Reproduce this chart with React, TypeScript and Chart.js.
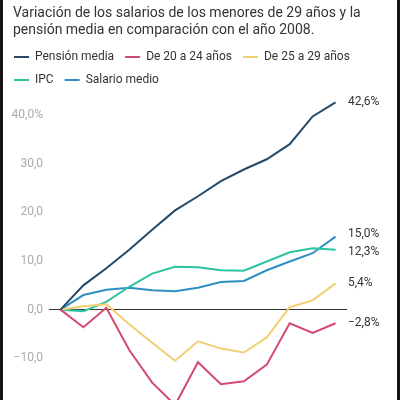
import React, { useEffect, useRef } from "react";
import { Chart, registerables } from "chart.js";

Chart.register(...registerables);

const years = ["2008", "2009", "2010", "2011", "2012", "2013", "2014", "2015", "2016", "2017", "2018", "2019", "2020"];
const pensionMedia = [0, 5.0, 8.5, 12.3, 16.4, 20.4, 23.3, 26.4, 28.8, 30.9, 34.0, 39.7, 42.6];
const de20a24 = [0, -3.6, 0.4, -8.3, -15.0, -19.6, -10.8, -15.3, -14.7, -11.3, -2.8, -4.8, -2.8];
const de25a29 = [0, 0.7, 1.1, -3.0, -6.8, -10.5, -6.5, -8.0, -8.8, -5.7, 0.5, 1.9, 5.4];
const ipc = [0, -0.3, 1.6, 4.7, 7.4, 8.8, 8.7, 8.1, 8.0, 9.9, 11.8, 12.6, 12.3];
const salarioMedio = [0, 3.0, 4.1, 4.5, 4.0, 3.8, 4.5, 5.7, 5.9, 8.1, 9.9, 11.6, 15.0];

const seriesNames = ["Pensión media", "De 20 a 24 años", "De 25 a 29 años", "IPC", "Salario medio"];
const seriesColors = ["#244a6b", "#d24a6f", "#f2cf73", "#2cc3a0", "#2f8fc3"];
const titleLines = [
  "Variación de los salarios de los menores de 29 años y la",
  "pensión media en comparación con el año 2008.",
];

const FONT = "Roboto, 'Noto Sans', sans-serif";

const fmt = (v: number) => v.toFixed(1).replace(".", ",").replace("-", "\u2212");

const endLabels = {
  id: "endLabels",
  afterDatasetsDraw(chart: any) {
    const { ctx, chartArea } = chart;
    const items: { y: number; text: string }[] = [];
    chart.data.datasets.forEach((ds: any, i: number) => {
      const meta = chart.getDatasetMeta(i);
      const pt = meta.data[meta.data.length - 1];
      items.push({ y: pt.y, text: fmt(ds.data[ds.data.length - 1]) + "%" });
    });
    items.sort((a, b) => a.y - b.y);
    const gap = 18;
    for (let iter = 0; iter < 20; iter++) {
      for (let k = 1; k < items.length; k++) {
        const d = items[k].y - items[k - 1].y;
        if (d < gap) {
          const s = (gap - d) / 2;
          items[k - 1].y -= s;
          items[k].y += s;
        }
      }
    }
    ctx.save();
    ctx.font = `12px ${FONT}`;
    ctx.fillStyle = "#333";
    ctx.textBaseline = "middle";
    ctx.textAlign = "left";
    items.forEach((it) => ctx.fillText(it.text, chartArea.right + 1, it.y));
    ctx.restore();
  },
};

export default function App() {
  const ref = useRef<HTMLCanvasElement>(null);
  useEffect(() => {
    if (!ref.current) return;
    const data = [pensionMedia, de20a24, de25a29, ipc, salarioMedio];
    const chart = new Chart(ref.current, {
      type: "line",
      data: {
        labels: years,
        datasets: data.map((d, i) => ({
          label: seriesNames[i],
          data: d,
          borderColor: seriesColors[i],
          backgroundColor: seriesColors[i],
          borderWidth: 2,
          pointRadius: 0,
          tension: 0,
          yAxisID: "y",
        })),
      },
      options: {
        animation: false,
        responsive: false,
        devicePixelRatio: 1,
        layout: { padding: { left: 3, right: 0, top: 40, bottom: 0 } },
        plugins: {
          title: { display: false },
          legend: {
            align: "start",
            labels: {
              color: "#333",
              font: { family: FONT, size: 12 },
              boxWidth: 15,
              boxHeight: 2,
              padding: 11,
              generateLabels: (c: any) =>
                c.data.datasets.map((ds: any, i: number) => ({
                  text: ds.label,
                  fillStyle: ds.borderColor,
                  strokeStyle: ds.borderColor,
                  lineWidth: 0,
                  hidden: false,
                  datasetIndex: i,
                  fontColor: "#333",
                })),
            },
          },
          tooltip: { enabled: false },
        },
        scales: {
          x: {
            offset: true,
            grid: { display: false },
            border: { display: false },
            ticks: { color: "#aaa", font: { family: FONT, size: 12 } },
            afterFit: (s: any) => {
              s.height = 24;
            },
          },
          y: {
            min: -20,
            max: 43.9,
            border: { display: false },
            grid: {
              drawTicks: false,
              color: (c: any) => (c.tick && c.tick.value === 0 ? "#333" : "rgba(0,0,0,0)"),
              lineWidth: 1,
            },
            ticks: {
              stepSize: 10,
              includeBounds: false,
              padding: 6,
              color: "#aaa",
              font: { family: FONT, size: 12 },
              callback: (v: any) => (v === 40 ? fmt(v) + "%" : fmt(v)),
            },
            afterFit: (s: any) => {
              s.width = 46;
            },
          },
          yRight: {
            position: "right",
            min: 0,
            max: 1,
            grid: { display: false },
            border: { display: false },
            ticks: { display: false },
            afterFit: (s: any) => {
              s.width = 53;
            },
          },
        },
      },
      plugins: [endLabels],
    } as any);
    return () => chart.destroy();
  }, []);
  return (
    <div style={{ position: "fixed", left: 0, top: 0, width: 400, height: 400, overflow: "hidden", background: "#fff" }}>
      <canvas ref={ref} width={400} height={431} style={{ display: "block" }} />
      <div
        style={{
          position: "absolute",
          left: 13,
          top: 4,
          fontFamily: FONT,
          fontSize: 14,
          lineHeight: "17px",
          color: "#333",
          whiteSpace: "nowrap",
        }}
      >
        {titleLines.map((t, i) => (
          <div key={i}>{t}</div>
        ))}
      </div>
      <div style={{ position: "absolute", left: 0, top: 0, width: 3, height: 400, background: "#151515" }} />
      <div style={{ position: "absolute", right: 0, top: 0, width: 3, height: 400, background: "#151515" }} />
    </div>
  );
}
